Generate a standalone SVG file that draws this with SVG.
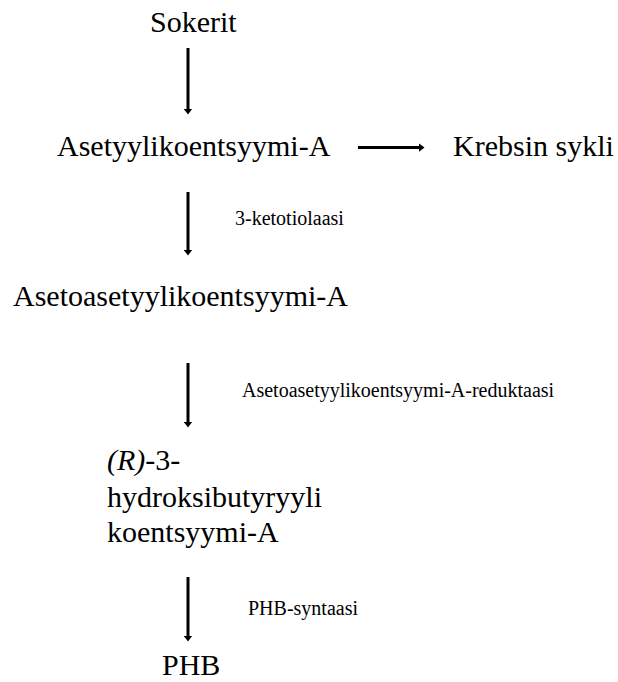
<svg xmlns="http://www.w3.org/2000/svg" width="618" height="682" viewBox="0 0 618 682">
<defs>
<style>
.main{font-family:"Liberation Serif","Times New Roman",serif;font-size:30px;fill:#000}
.lab{font-family:"Liberation Serif","Times New Roman",serif;font-size:20px;fill:#000}
.con{stroke:#000;stroke-width:3;fill:none}
</style>
<marker id="ah" markerWidth="3" markerHeight="3" refX="0.5" refY="1.5" orient="auto" markerUnits="strokeWidth">
<path d="M0,0 L2,1.5 L0,3 Z" fill="#000"/>
</marker>
</defs>
<rect width="618" height="682" fill="#fff"/>
<g id="connectors">
<line class="con" x1="188" y1="48" x2="188" y2="110" marker-end="url(#ah)"/>
<line class="con" x1="358" y1="147.5" x2="420" y2="147.5" marker-end="url(#ah)"/>
<line class="con" x1="188" y1="192" x2="188" y2="251" marker-end="url(#ah)"/>
<line class="con" x1="188" y1="363" x2="188" y2="423" marker-end="url(#ah)"/>
<line class="con" x1="188" y1="577" x2="188" y2="637" marker-end="url(#ah)"/>
</g>
<g id="labels">
<text class="lab" x="235" y="225">3-ketotiolaasi</text>
<text class="lab" x="242" y="397">Asetoasetyylikoentsyymi-A-reduktaasi</text>
<text class="lab" x="248" y="615">PHB-syntaasi</text>
</g>
<g id="sokerit"><text class="main" x="150" y="32">Sokerit</text></g>
<g id="asetyyli"><text class="main" x="57" y="156">Asetyylikoentsyymi-A</text></g>
<g id="krebs"><text class="main" x="453" y="156">Krebsin sykli</text></g>
<g id="asetoasetyyli"><text class="main" x="13" y="306">Asetoasetyylikoentsyymi-A</text></g>
<g id="hydroksi">
<text class="main" x="107" y="470"><tspan font-style="italic">(R)</tspan>-3-</text>
<text class="main" x="107" y="507">hydroksibutyryyli</text>
<text class="main" x="107" y="542">koentsyymi-A</text>
</g>
<g id="phb"><text class="main" x="162" y="675">PHB</text></g>
</svg>
